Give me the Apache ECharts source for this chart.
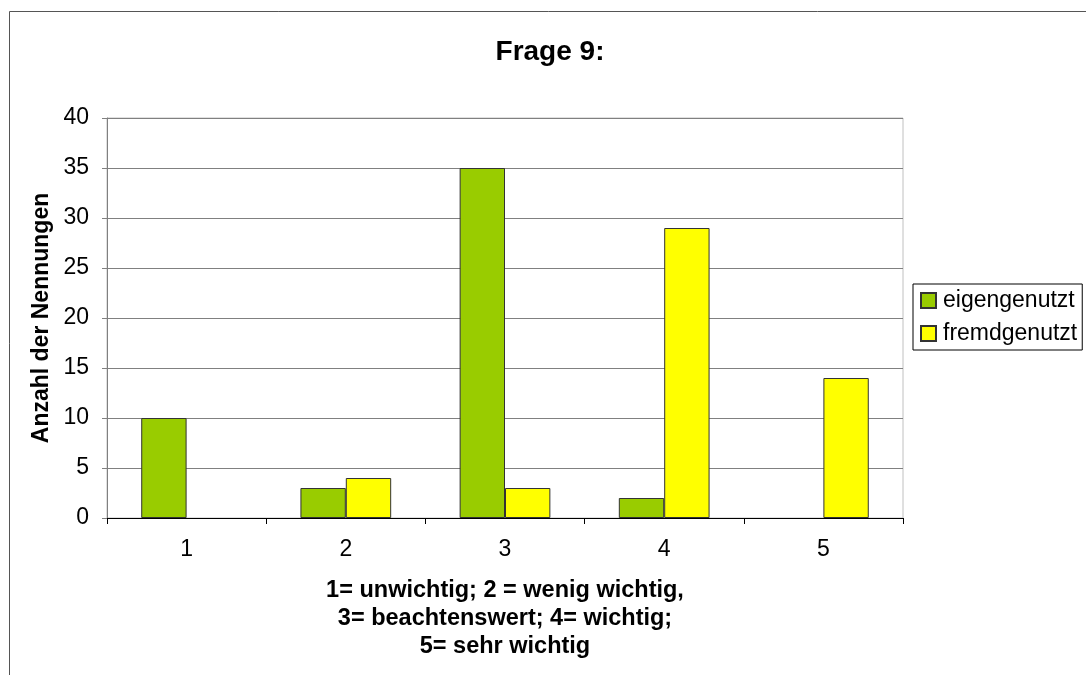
<!DOCTYPE html>
<html>
<head>
<meta charset="utf-8">
<script src="https://cdn.jsdelivr.net/npm/echarts@6/dist/echarts.min.js"></script>
<style>
  html, body { margin: 0; padding: 0; background: #fff; }
  #chart { width: 1086px; height: 675px; }
</style>
</head>
<body>
<div id="chart"></div>
<script>
// Survey question 9: number of answers per rating, split by usage type
const categories = ['1', '2', '3', '4', '5'];
const eigengenutzt = [10, 3, 35, 2, 0];
const fremdgenutzt = [0, 4, 3, 29, 14];
const seriesNames = ['eigengenutzt', 'fremdgenutzt'];
const yTicks = { min: 0, max: 40, interval: 5 };
const titleText = 'Frage 9:';
const yAxisTitle = 'Anzahl der Nennungen';
const xAxisTitle = '1= unwichtig; 2 = wenig wichtig,\n3= beachtenswert; 4= wichtig;\n5= sehr wichtig';

const FONT = '"Liberation Sans", Arial, sans-serif';
// zero counts are left empty so no flat bar is drawn
const asBars = arr => arr.map(v => (v === 0 ? '-' : v));

const chart = echarts.init(document.getElementById('chart'), null, { renderer: 'canvas' });

chart.setOption({
  backgroundColor: '#fff',
  animation: false,
  title: {
    text: titleText,
    left: 545,
    top: 33,
    textAlign: 'center',
    textStyle: { fontFamily: FONT, fontSize: 28, fontWeight: 'bold', color: '#000' }
  },
  legend: {
    orient: 'vertical',
    left: 913,
    top: 284,
    padding: [5, 5, 5, 7],
    itemGap: 10,
    itemWidth: 15,
    itemHeight: 15,
    borderColor: '#000',
    borderWidth: 1,
    icon: 'rect',
    data: seriesNames,
    textStyle: { fontFamily: FONT, fontSize: 23, color: '#000', padding: [0, 0, 0, 2] }
  },
  grid: {
    left: 107, right: 183, top: 118, bottom: 157,
    show: true, borderColor: '#c0c0c0', borderWidth: 1
  },
  xAxis: {
    type: 'category',
    data: categories,
    axisLine: { lineStyle: { color: '#000', width: 1 } },
    axisTick: { show: true, length: 6, lineStyle: { color: '#000' } },
    axisLabel: { margin: 20, fontFamily: FONT, fontSize: 23, color: '#000' },
    splitLine: { show: false }
  },
  yAxis: {
    type: 'value',
    min: yTicks.min, max: yTicks.max, interval: yTicks.interval,
    name: yAxisTitle,
    nameLocation: 'middle',
    nameGap: 54,
    nameRotate: 90,
    nameMoveOverlap: false,
    nameTextStyle: { fontFamily: FONT, fontSize: 23, fontWeight: 'bold', color: '#000' },
    axisLine: { show: true, lineStyle: { color: '#808080', width: 1 } },
    axisTick: { show: true, length: 5, lineStyle: { color: '#808080' } },
    axisLabel: { margin: 18, fontFamily: FONT, fontSize: 23, color: '#000' },
    splitLine: { show: true, lineStyle: { color: '#808080', width: 1 } }
  },
  series: [
    {
      name: seriesNames[0],
      type: 'bar',
      data: asBars(eigengenutzt),
      barGap: '0%',
      barCategoryGap: '43%',
      itemStyle: { color: '#99CC00', borderColor: '#333', borderWidth: 1 }
    },
    {
      name: seriesNames[1],
      type: 'bar',
      data: asBars(fremdgenutzt),
      itemStyle: { color: '#FFFF00', borderColor: '#333', borderWidth: 1 }
    }
  ],
  graphic: [
    {
      type: 'rect',
      silent: true,
      shape: { x: 9.5, y: 11.5, width: 1200, height: 800 },
      style: { fill: 'none', stroke: '#555', lineWidth: 1 }
    },
    {
      type: 'text',
      x: 505,
      y: 619,
      silent: true,
      style: {
        text: xAxisTitle,
        align: 'center',
        verticalAlign: 'middle',
        font: 'bold 23.5px "Liberation Sans", Arial, sans-serif',
        lineHeight: 28,
        fill: '#000'
      }
    }
  ]
});
</script>
</body>
</html>
